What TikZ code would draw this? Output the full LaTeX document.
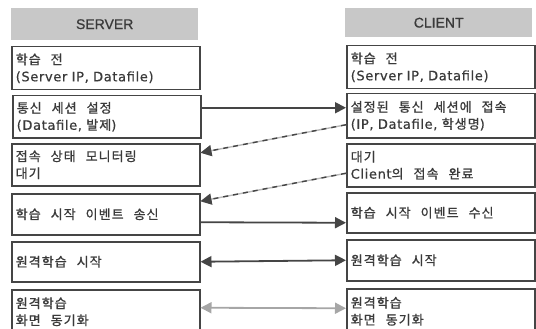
\documentclass[tikz,border=0pt]{standalone}
\usepackage{fontspec}
\usetikzlibrary{arrows.meta}
\setmainfont[LetterSpace=5,FakeBold=0.6]{DejaVu Sans}
\newfontfamily\krfont[LetterSpace=8,FakeBold=1]{Noto Sans CJK KR}
\newfontfamily\hdrfont[FakeBold=0.8]{Liberation Sans}
\newcommand{\ko}[1]{{\krfont\fontsize{13}{17}\selectfont\spaceskip=10pt plus 1pt #1}}
\definecolor{hdrgray}{HTML}{C8C8C8}
\definecolor{bordergray}{HTML}{454545}
\definecolor{txtgray}{HTML}{3A3A3A}
\tikzset{
  hdr/.style={fill=hdrgray, draw=none, minimum width=187pt, inner sep=0pt,
    font=\hdrfont\fontsize{14}{16}\selectfont, text=txtgray},
  box/.style={draw=bordergray, line width=1.5pt, fill=white, inner xsep=4pt, inner ysep=0pt,
    text width=180pt, align=left, text=txtgray,
    font=\fontsize{13}{17}\selectfont},
  tip/.style={-{Triangle[length=11pt,width=11pt]}},
  conn/.style={draw=bordergray, line width=1.8pt, tip},
  slant/.style={draw=gray!55, line width=1.4pt, tip,
    postaction={draw=bordergray, dash pattern=on 5pt off 5pt}},
  dbl/.style={draw=bordergray, line width=1.8pt,
    {Triangle[length=11pt,width=11pt]}-{Triangle[length=11pt,width=11pt]}},
}
\begin{document}
\begin{tikzpicture}[x=1pt,y=-1pt]
\useasboundingbox (0,0) rectangle (536,329);
% server column
\node[hdr, minimum height=32pt, anchor=north west] (sh) at (11,8) {SERVER};
\node[box, minimum height=43pt, anchor=north west] (s1) at (11,46) {\ko{학습 전}\\(Server IP, Datafile)};
\node[box, minimum height=42pt, anchor=north west] (s2) at (12,95) {\ko{통신 세션 설정}\\(Datafile, \ko{발제})};
\node[box, minimum height=42pt, anchor=north west] (s3) at (11,143) {\ko{접속 상태 모니터링}\\\ko{대기}};
\node[box, minimum height=41pt, anchor=north west] (s4) at (11,193) {\ko{학습 시작 이벤트 송신}};
\node[box, minimum height=40pt, anchor=north west] (s5) at (11,241) {\ko{원격학습 시작}};
\node[box, minimum height=44pt, anchor=north west] (s6) at (11,289) {\ko{원격학습}\\\ko{화면 동기화}};
% client column
\node[hdr, minimum height=29pt, anchor=north west] (ch) at (345,8) {CLIENT};
\node[box, minimum height=43pt, anchor=north west] (c1) at (346,45) {\ko{학습 전}\\(Server IP, Datafile)};
\node[box, minimum height=44pt, anchor=north west] (c2) at (346,93) {\ko{설정된 통신 세션에 접속}\\(IP, Datafile, \ko{학생명})};
\node[box, minimum height=43pt, anchor=north west] (c3) at (346,143) {\ko{대기}\\Client\ko{의 접속 완료}};
\node[box, minimum height=40pt, anchor=north west] (c4) at (346,192) {\ko{학습 시작 이벤트 수신}};
\node[box, minimum height=41pt, anchor=north west] (c5) at (346,239) {\ko{원격학습 시작}};
\node[box, minimum height=45pt, anchor=north west] (c6) at (346,288) {\ko{원격학습}\\\ko{화면 동기화}};
% connectors
\draw[conn] ([yshift=9pt]s2.east) -- ([yshift=8pt]c2.west);
\draw[slant] ([yshift=-9pt]c2.west) -- ([yshift=12pt]s3.east);
\draw[slant] ([yshift=-8pt]c3.west) -- ([yshift=13pt]s4.east);
\draw[conn] ([yshift=-8pt]s4.east) -- ([yshift=-10pt]c4.west);
\draw[dbl] (s5.east) -- (c5.west);
\draw[dbl, draw=gray!70] ([yshift=4pt]s6.east) -- ([yshift=3pt]c6.west);
\end{tikzpicture}
\end{document}
